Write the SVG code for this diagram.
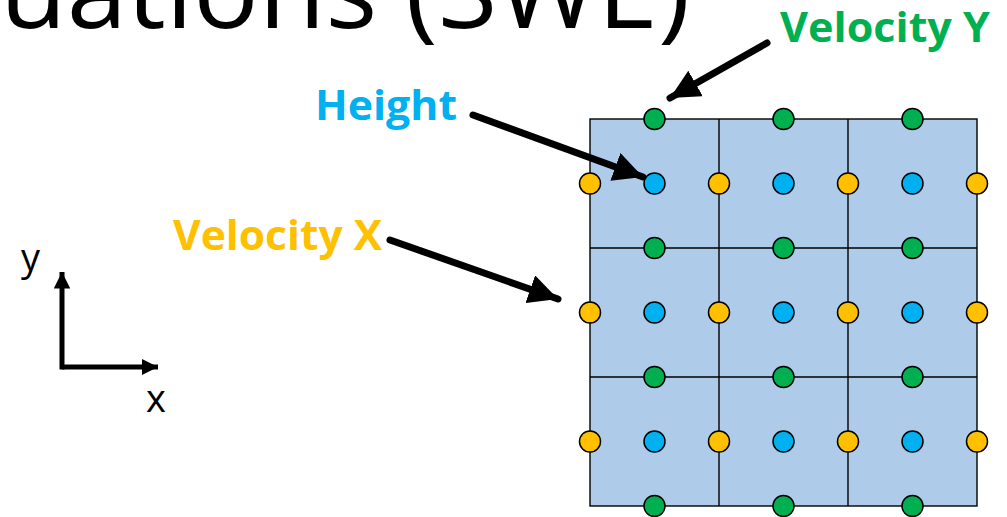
<svg xmlns="http://www.w3.org/2000/svg" width="1007" height="517" viewBox="0 0 1007 517">
<defs>
<style>
.title{font-family:"Open Sans","Noto Sans","Liberation Sans",sans-serif;font-size:104px;font-weight:500;fill:#000}
.lbl{font-family:"Open Sans","Noto Sans","Liberation Sans",sans-serif;font-size:42px;font-weight:bold}
.ax{font-family:"Open Sans","Noto Sans","Liberation Sans",sans-serif;font-size:38px;fill:#000}
.grid{fill:#AECBEA;stroke:#000;stroke-width:1.4}
.gl{stroke:#000;stroke-width:1.4;fill:none}
.vy{fill:#00B050;stroke:#000;stroke-width:1.5}
.h{fill:#00B0F0;stroke:#000;stroke-width:1.5}
.vx{fill:#FFC000;stroke:#000;stroke-width:1.5}
.arr{stroke:#000;stroke-width:7;stroke-linecap:round;fill:none}
.axl{stroke:#000;stroke-width:5;fill:none}
</style>
<marker id="ah" viewBox="0 0 10 10" refX="10" refY="5" markerWidth="4.2" markerHeight="4.2" markerUnits="strokeWidth" orient="auto">
<path d="M0,0 L10,5 L0,10 z" fill="#000"/>
</marker>
<marker id="ah2" viewBox="0 0 10 10" refX="10" refY="5" markerWidth="3.3" markerHeight="3.3" markerUnits="strokeWidth" orient="auto">
<path d="M0,0 L10,5 L0,10 z" fill="#000"/>
</marker>
</defs>
<text class="title" x="0" y="28" textLength="690" lengthAdjust="spacingAndGlyphs">uations (SWE)</text>
<g id="grid">
<rect class="grid" x="590" y="119" width="387" height="387"/>
<path class="gl" d="M719,119V506M848,119V506M590,248H977M590,377H977"/>
</g>
<g id="velocity-y-points">
<circle class="vy" cx="654.5" cy="119" r="10.5"/><circle class="vy" cx="783.5" cy="119" r="10.5"/><circle class="vy" cx="912.5" cy="119" r="10.5"/>
<circle class="vy" cx="654.5" cy="248" r="10.5"/><circle class="vy" cx="783.5" cy="248" r="10.5"/><circle class="vy" cx="912.5" cy="248" r="10.5"/>
<circle class="vy" cx="654.5" cy="377" r="10.5"/><circle class="vy" cx="783.5" cy="377" r="10.5"/><circle class="vy" cx="912.5" cy="377" r="10.5"/>
<circle class="vy" cx="654.5" cy="506" r="10.5"/><circle class="vy" cx="783.5" cy="506" r="10.5"/><circle class="vy" cx="912.5" cy="506" r="10.5"/>
</g>
<g id="height-points">
<circle class="h" cx="654.5" cy="183.5" r="10.5"/><circle class="h" cx="783.5" cy="183.5" r="10.5"/><circle class="h" cx="912.5" cy="183.5" r="10.5"/>
<circle class="h" cx="654.5" cy="312.5" r="10.5"/><circle class="h" cx="783.5" cy="312.5" r="10.5"/><circle class="h" cx="912.5" cy="312.5" r="10.5"/>
<circle class="h" cx="654.5" cy="441.5" r="10.5"/><circle class="h" cx="783.5" cy="441.5" r="10.5"/><circle class="h" cx="912.5" cy="441.5" r="10.5"/>
</g>
<g id="velocity-x-points">
<circle class="vx" cx="590" cy="183.5" r="10.5"/><circle class="vx" cx="719" cy="183.5" r="10.5"/><circle class="vx" cx="848" cy="183.5" r="10.5"/><circle class="vx" cx="977" cy="183.5" r="10.5"/>
<circle class="vx" cx="590" cy="312.5" r="10.5"/><circle class="vx" cx="719" cy="312.5" r="10.5"/><circle class="vx" cx="848" cy="312.5" r="10.5"/><circle class="vx" cx="977" cy="312.5" r="10.5"/>
<circle class="vx" cx="590" cy="441.5" r="10.5"/><circle class="vx" cx="719" cy="441.5" r="10.5"/><circle class="vx" cx="848" cy="441.5" r="10.5"/><circle class="vx" cx="977" cy="441.5" r="10.5"/>
</g>
<g id="label-velocity-y"><text class="lbl" x="780" y="42" fill="#00B050" textLength="210" lengthAdjust="spacingAndGlyphs">Velocity Y</text></g>
<g id="label-height"><text class="lbl" x="315" y="120" fill="#00B0F0" textLength="142" lengthAdjust="spacingAndGlyphs">Height</text></g>
<g id="label-velocity-x"><text class="lbl" x="173" y="250" fill="#FFC000" textLength="209" lengthAdjust="spacingAndGlyphs">Velocity X</text></g>
<g id="axes">
<path class="axl" d="M62,367H158" marker-end="url(#ah2)"/>
<path class="axl" d="M62,369.5V272" marker-end="url(#ah2)"/>
<text class="ax" x="21" y="271">y</text>
<text class="ax" x="146" y="412">x</text>
</g>
<g id="connectors">
<line class="arr" x1="767" y1="43" x2="670" y2="98" marker-end="url(#ah)"/>
<line class="arr" x1="473" y1="115" x2="643" y2="177" marker-end="url(#ah)"/>
<line class="arr" x1="390" y1="240" x2="558" y2="299" marker-end="url(#ah)"/>
</g>
</svg>
